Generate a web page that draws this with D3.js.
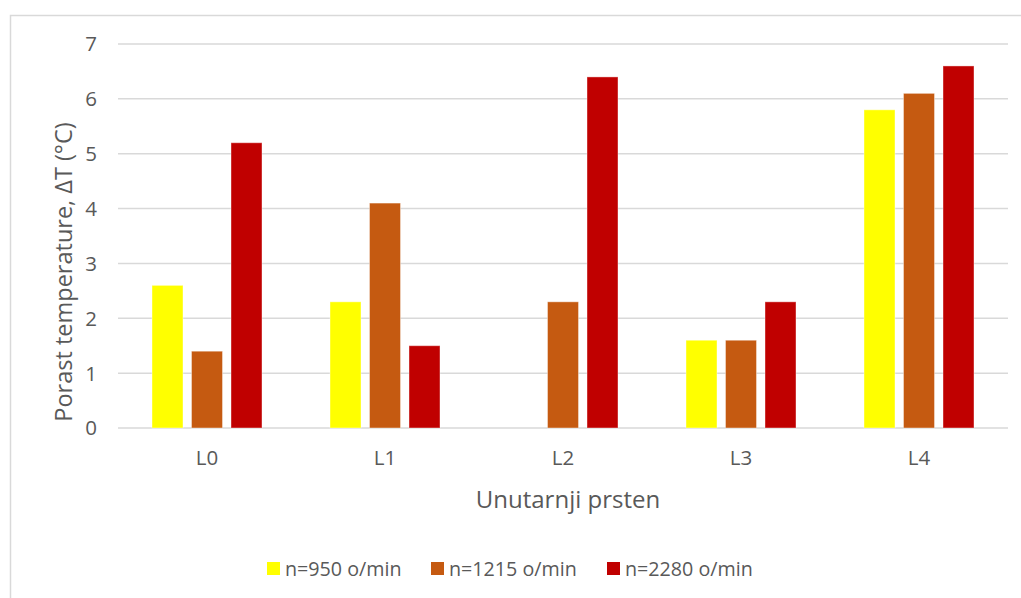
<!DOCTYPE html>
<html><head><meta charset="utf-8">
<script src="https://cdn.jsdelivr.net/npm/d3@7"></script>
<style>body{margin:0;background:#fff}svg{display:block}text{font-family:"Open Sans",sans-serif;fill:#595959}</style>
</head><body><svg id="c" width="1021" height="598"></svg>
<script>
const categories = ["L0","L1","L2","L3","L4"];
const seriesNames = ["n=950 o/min","n=1215 o/min","n=2280 o/min"];
const colors = ["#FFFF00","#C55A11","#C00000"];
const s950 = [2.6, 2.3, null, 1.6, 5.8];
const s1215 = [1.4, 4.1, 2.3, 1.6, 6.1];
const s2280 = [5.2, 1.5, 6.4, 2.3, 6.6];
const yTicks = [0,1,2,3,4,5,6,7];
const series = [s950, s1215, s2280];

const svg = d3.select("#c");
svg.append("rect").attr("x",10.5).attr("y",15.5).attr("width",1030).attr("height",600)
  .attr("fill","#fff").attr("stroke","#d9d9d9").attr("stroke-width",1.5);

const pL=118, pR=1008, pT=44, pB=428;
const x = d3.scaleBand().domain(categories).range([pL,pR]);
const y = d3.scaleLinear().domain([0,7]).range([pB,pT]);
const barW = 31, gap = 8.5;

svg.append("g").selectAll("line").data(yTicks).join("line")
  .attr("x1",pL).attr("x2",pR).attr("y1",d=>y(d)).attr("y2",d=>y(d))
  .attr("stroke","#d9d9d9").attr("stroke-width",1.5);

svg.append("g").selectAll("text").data(yTicks).join("text")
  .attr("x",97).attr("y",d=>y(d)).attr("dy","0.36em").attr("text-anchor","end")
  .attr("font-size",20.5).text(d=>d);

series.forEach((vals,si)=>{
  svg.append("g").selectAll("rect").data(categories.map((c,i)=>({c,v:vals[i]})).filter(d=>d.v!=null))
    .join("rect")
    .attr("x",d=>x(d.c)+x.bandwidth()/2 - (1.5*barW+gap) + si*(barW+gap))
    .attr("width",barW)
    .attr("y",d=>y(d.v)).attr("height",d=>pB-y(d.v))
    .attr("fill",colors[si]).attr("stroke","#ffffff").attr("stroke-opacity",0.4).attr("stroke-width",1);
});

svg.append("g").selectAll("text").data(categories).join("text")
  .attr("x",d=>x(d)+x.bandwidth()/2).attr("y",465)
  .attr("text-anchor","middle").attr("font-size",20.5).text(d=>d);

svg.append("text").attr("x",568).attr("y",508)
  .attr("text-anchor","middle").attr("font-size",24).text("Unutarnji prsten");

svg.append("text").attr("transform",`translate(72,272) rotate(-90)`)
  .attr("text-anchor","middle").attr("font-size",23.5)
  .text("Porast temperature, ΔT (°C)");

const legX = [267, 431, 607];
const leg = svg.append("g").selectAll("g").data(seriesNames).join("g")
  .attr("transform",(d,i)=>`translate(${legX[i]},562)`);
leg.append("rect").attr("width",13).attr("height",13).attr("fill",(d,i)=>colors[i]);
leg.append("text").attr("x",18).attr("y",14).attr("font-size",19.7).text(d=>d);
</script></body></html>
